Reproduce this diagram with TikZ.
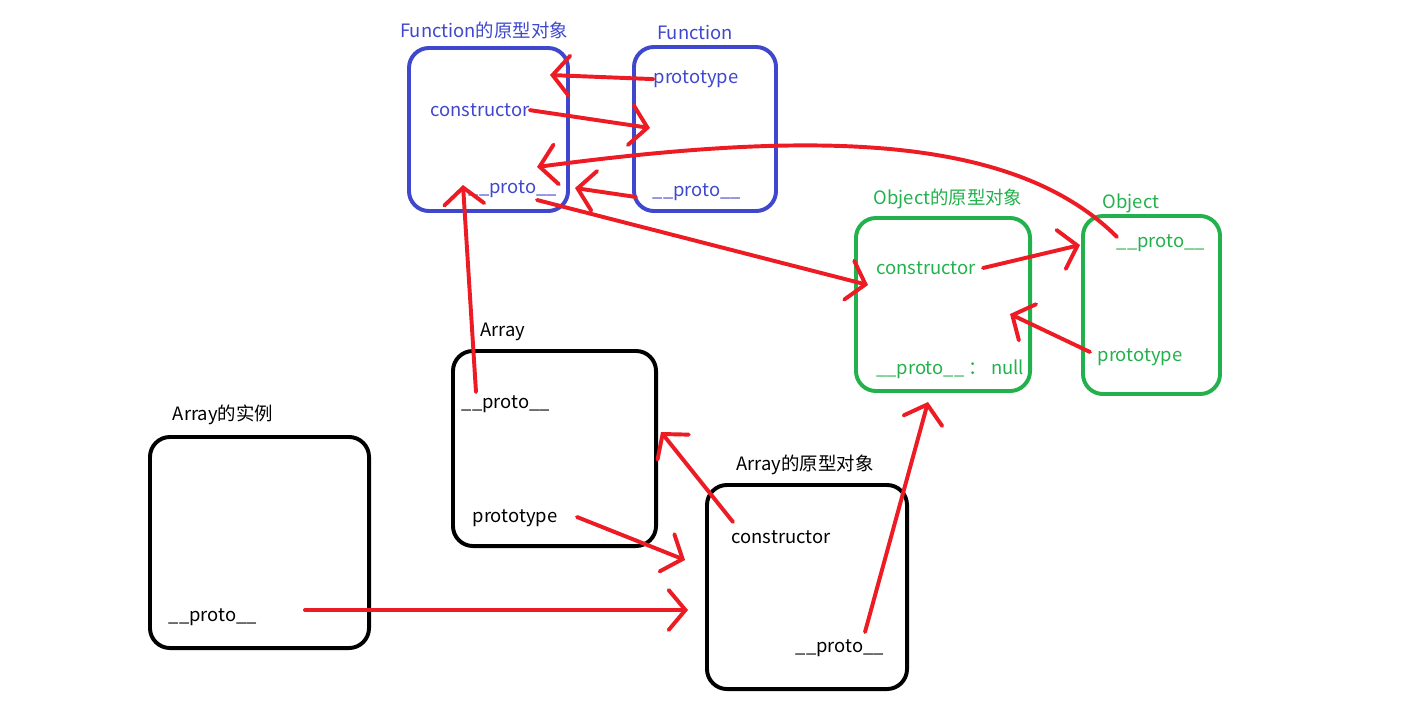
\documentclass[tikz,border=0pt]{standalone}
\usepackage{fontspec}
\setmainfont{Noto Sans CJK SC}
\usetikzlibrary{arrows.meta}
\definecolor{pblue}{RGB}{63,72,204}
\definecolor{pgreen}{RGB}{34,177,76}
\definecolor{pred}{RGB}{237,28,36}

\begin{document}
\begin{tikzpicture}[x=0.025cm,y=-0.025cm,
  every node/.style={font=\fontsize{13.1}{16}\selectfont,inner sep=0pt},
  lbl/.style={yshift=-1.5pt},
  obox/.style={draw,line width=2.8pt,rounded corners=0.5cm,minimum width=#1},
  redarrow/.style={pred,line width=2.8pt,line cap=round,
    -{Straight Barb[length=0.42cm,width=1cm,line cap=round]}}]
\useasboundingbox (0,0) rectangle (1402,711);
% boxes
\node[obox=3.975cm,minimum height=4.075cm,pblue] (fp) at (488.5,129.5) {};
\node[obox=3.55cm,minimum height=4.1cm,pblue] (f) at (705,129) {};
\node[obox=4.35cm,minimum height=4.325cm,pgreen] (op) at (943,304.5) {};
\node[obox=3.425cm,minimum height=4.45cm,pgreen] (o) at (1151.5,305) {};
\node[obox=5.075cm,minimum height=4.875cm] (a) at (554.5,448.5) {};
\node[obox=5.475cm,minimum height=5.275cm] (ai) at (259.5,542.5) {};
\node[obox=5cm,minimum height=5.1cm] (ap) at (807,587) {};
% titles
\node[lbl,pblue] (tfp) at (484,28) {Function的原型对象};
\node[lbl,pblue] (tf) at (695,30) {Function};
\node[lbl,pgreen] (top) at (948,197) {Object的原型对象};
\node[lbl,pgreen] (to) at (1131,201) {Object};
\node[lbl] (ta) at (503,330) {Array};
\node[lbl] (tai) at (223,413) {Array的实例};
\node[lbl] (tap) at (805,463) {Array的原型对象};
% fields
\node[lbl,pblue] (fpc) at (480,108) {constructor};
\node[lbl,pblue] (fpp) at (513,187) {\_\_proto\_\_};
\node[lbl,pblue] (fpt) at (696,77) {prototype};
\node[lbl,pblue] (ffp) at (697,190) {\_\_proto\_\_};
\node[lbl,pgreen] (opc) at (926,266) {constructor};
\node[lbl,pgreen] (opp) at (950,367) {\_\_proto\_\_ ： null};
\node[lbl,pgreen] (ofp) at (1161,241) {\_\_proto\_\_};
\node[lbl,pgreen] (ofpt) at (1140,355) {prototype};
\node[lbl] (afp) at (506,402) {\_\_proto\_\_};
\node[lbl] (afpt) at (515,516) {prototype};
\node[lbl] (aifp) at (213,615) {\_\_proto\_\_};
\node[lbl] (apc) at (781,535) {constructor};
\node[lbl] (app) at (840,646) {\_\_proto\_\_};
% arrow ends
\coordinate (h1) at (550,75);
\coordinate (h2) at (650,128);
\coordinate (s3) at (1117,237);
\coordinate (h3) at (537,167);
\coordinate (s4) at (636,197);
\coordinate (h4) at (575,188);
\coordinate (s5) at (476,392);
\coordinate (h5) at (463,185);
\coordinate (s6) at (537,200);
\coordinate (h6) at (868,285);
\coordinate (s7) at (983,268);
\coordinate (h7) at (1080,245);
\coordinate (s8) at (1090,352);
\coordinate (h8) at (1010,314);
\coordinate (s9) at (733,522);
\coordinate (h9) at (661,432);
\coordinate (s10) at (577,517);
\coordinate (h10) at (685,560);
\coordinate (s11) at (305,610);
\coordinate (h11) at (688,610);
\coordinate (s12) at (865,632);
\coordinate (h12) at (928,402);
% arrows
\draw[redarrow] (fpt.west) -- (h1);
\draw[redarrow] (fpc.east) -- (h2);
\draw[redarrow] (s3) .. controls (1010,130) and (800,132) .. (h3);
\draw[redarrow] (s4) -- (h4);
\draw[redarrow] (s5) -- (h5);
\draw[redarrow] (s6) -- (h6);
\draw[redarrow] (s7) -- (h7);
\draw[redarrow] (s8) -- (h8);
\draw[redarrow] (s9) -- (h9);
\draw[redarrow] (s10) -- (h10);
\draw[redarrow] (s11) -- (h11);
\draw[redarrow] (s12) -- (h12);
\end{tikzpicture}
\end{document}
